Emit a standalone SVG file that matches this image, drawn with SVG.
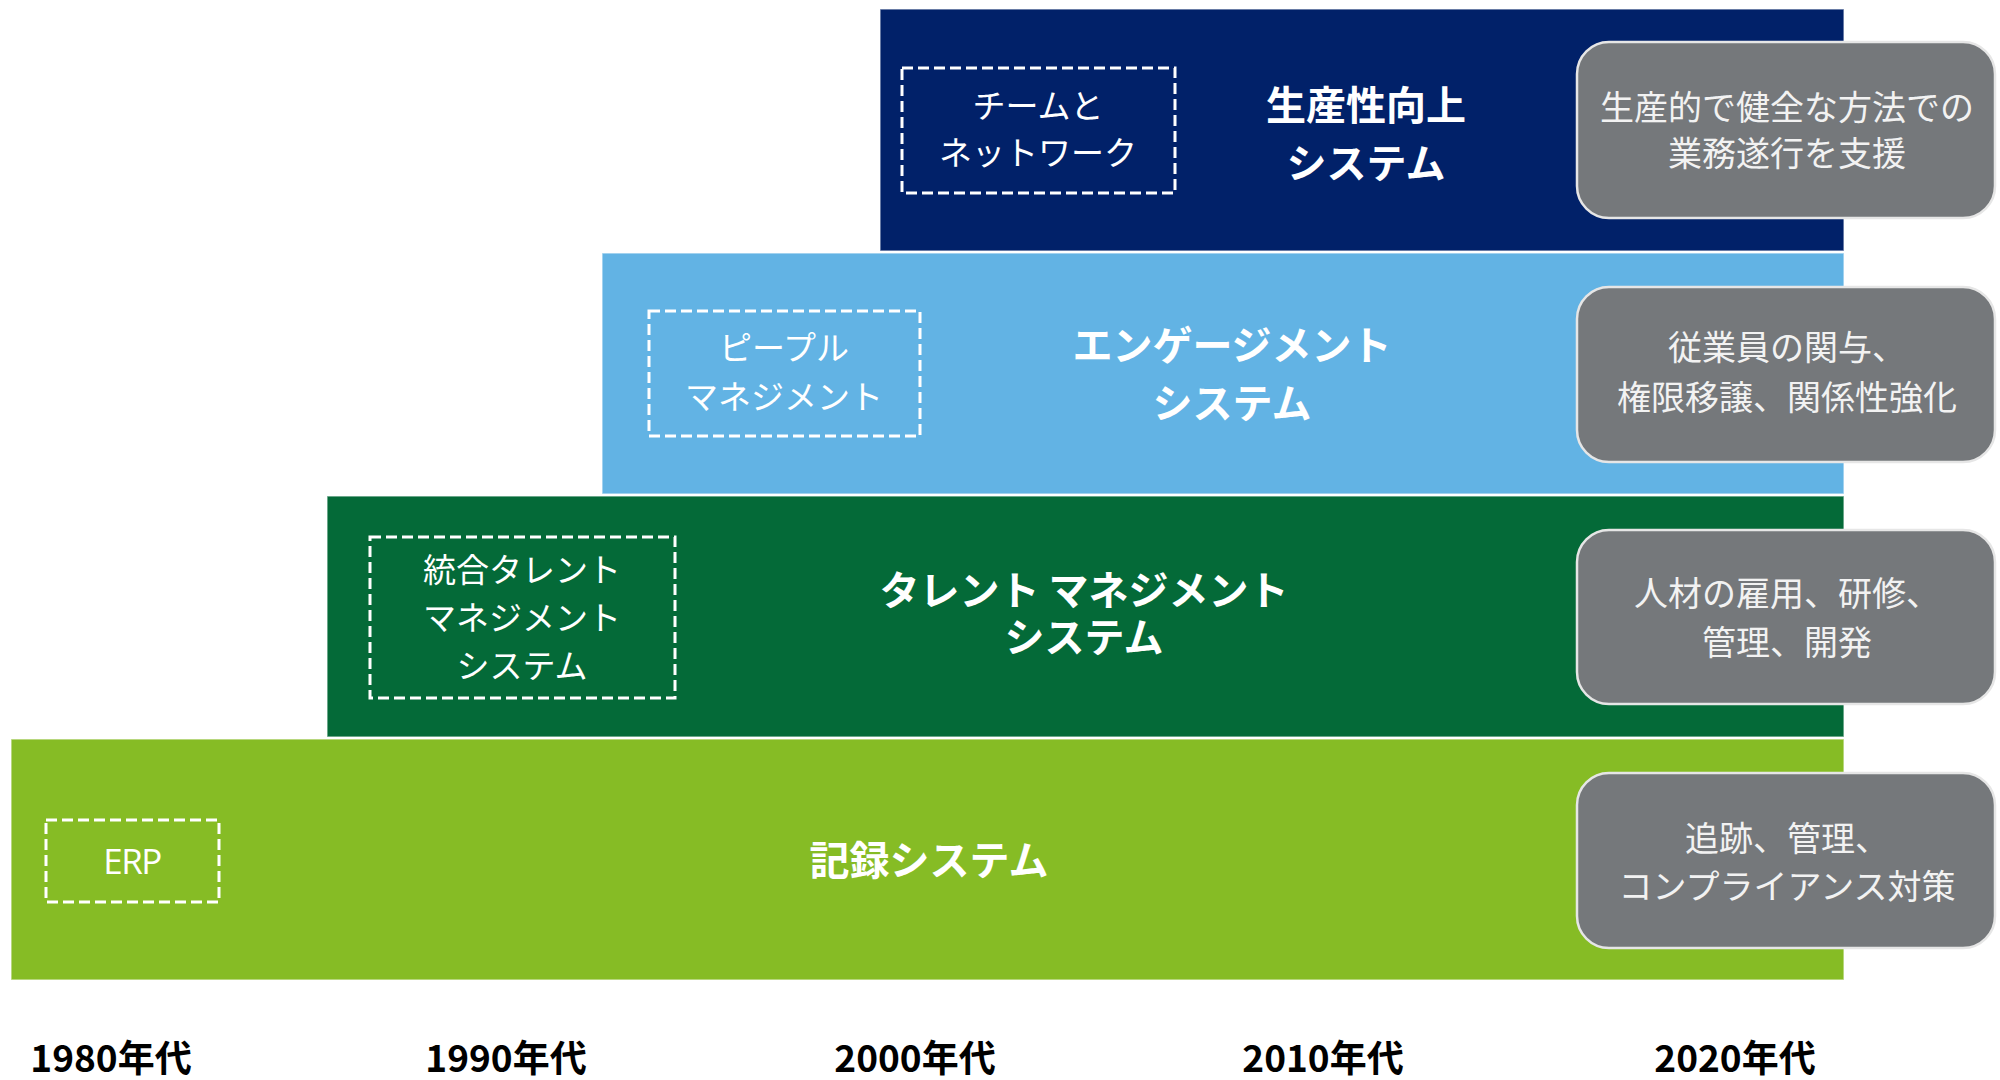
<svg xmlns="http://www.w3.org/2000/svg" width="2000" height="1080" viewBox="0 0 2000 1080">
<style>
.band{stroke:#ffffff;stroke-opacity:0.55;stroke-width:1.5}
.dash{fill:none;stroke:#ffffff;stroke-width:3;stroke-dasharray:11 5}
.pill{fill:#75787b;stroke:#e6e6e6;stroke-width:2.5}
text{font-family:"Noto Sans CJK JP","Noto Sans",sans-serif;text-anchor:middle;fill:#ffffff}
.small{font-size:33px;font-weight:400}
.title{font-size:40px;font-weight:700}
.desc{font-size:34px;font-weight:400;fill:#f2f2f2}
.erp{font-family:"Open Sans","Noto Sans",sans-serif;font-size:35px;font-weight:400;letter-spacing:-1.5px}
.year{font-size:37px;font-weight:700;fill:#000000}
</style>
<rect width="2000" height="1080" fill="#ffffff"/>
<g id="band-productivity">
<rect class="band" x="880" y="9" width="964" height="242" fill="#012169"/>
<rect class="dash" x="902" y="68" width="273" height="125"/>
<text class="small" x="1038" y="118">チームと</text>
<text class="small" x="1038" y="165">ネットワーク</text>
<text class="title" x="1366" y="120">生産性向上</text>
<text class="title" x="1366" y="178">システム</text>
</g>
<g id="band-engagement">
<rect class="band" x="602" y="253" width="1242" height="241" fill="#62b3e4"/>
<rect class="dash" x="649" y="311" width="271" height="125"/>
<text class="small" x="784" y="360">ピープル</text>
<text class="small" x="784" y="409">マネジメント</text>
<text class="title" x="1232" y="360">エンゲージメント</text>
<text class="title" x="1232" y="418">システム</text>
</g>
<g id="band-talent">
<rect class="band" x="327" y="496" width="1517" height="241" fill="#046a38"/>
<rect class="dash" x="370" y="537" width="305" height="161"/>
<text class="small" x="522" y="582">統合タレント</text>
<text class="small" x="522" y="630">マネジメント</text>
<text class="small" x="522" y="678">システム</text>
<text class="title"><tspan x="1084" y="605">タレント マネジメント</tspan><tspan x="1084" y="652">システム</tspan></text>
</g>
<g id="band-record">
<rect class="band" x="11" y="739" width="1833" height="241" fill="#86bc25"/>
<rect class="dash" x="46" y="820" width="173" height="82"/>
<text class="erp" x="132" y="874">ERP</text>
<text class="title" x="929" y="875">記録システム</text>
</g>
<g id="desc-productivity">
<rect class="pill" x="1577" y="42" width="418" height="176" rx="32"/>
<text class="desc" x="1787" y="120">生産的で健全な方法での</text>
<text class="desc" x="1787" y="166">業務遂行を支援</text>
</g>
<g id="desc-engagement">
<rect class="pill" x="1577" y="287" width="418" height="175" rx="32"/>
<text class="desc" x="1787" y="360">従業員の関与、</text>
<text class="desc" x="1787" y="410">権限移譲、関係性強化</text>
</g>
<g id="desc-talent">
<rect class="pill" x="1577" y="530" width="418" height="174" rx="32"/>
<text class="desc" x="1787" y="606">人材の雇用、研修、</text>
<text class="desc" x="1787" y="655">管理、開発</text>
</g>
<g id="desc-record">
<rect class="pill" x="1577" y="773" width="418" height="175" rx="32"/>
<text class="desc" x="1787" y="851">追跡、管理、</text>
<text class="desc" x="1787" y="899">コンプライアンス対策</text>
</g>
<g id="axis">
<text class="year" x="111" y="1072">1980年代</text>
<text class="year" x="506" y="1072">1990年代</text>
<text class="year" x="915" y="1072">2000年代</text>
<text class="year" x="1323" y="1072">2010年代</text>
<text class="year" x="1735" y="1072">2020年代</text>
</g>
<g id="connectors"></g>
</svg>
